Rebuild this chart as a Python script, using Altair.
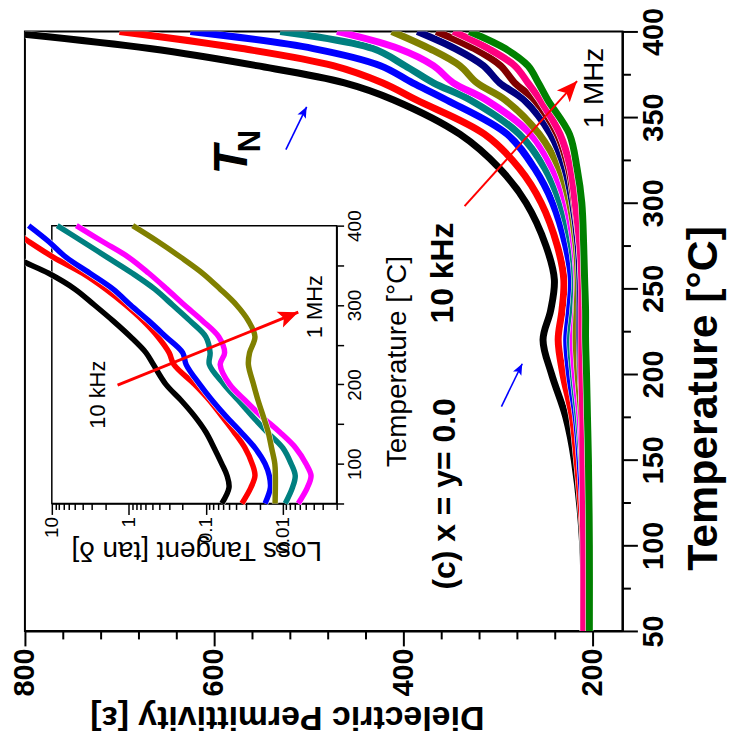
import altair as alt
import pandas as pd

FONT = "Liberation Sans"

# ---------------- main panel data (Temperature [°C] vs permittivity) ----------------
TEMP_MAIN = [50, 100, 150, 175, 200, 220, 237, 255, 275, 300, 320, 340, 360, 370, 380, 390, 400]
FREQ_MAIN = ["10 kHz", "20 kHz", "30 kHz", "50 kHz", "70 kHz", "100 kHz", "200 kHz", "300 kHz", "500 kHz", "1 MHz"]
COLOR_MAIN = ["#000000", "#ff0000", "#0000ff", "#008080", "#ff00ff", "#808000", "#000080", "#800000", "#ff0080", "#008000"]

EPS_F1 = [209, 210, 219, 228, 243, 252, 244, 240, 249, 270, 298, 340, 410, 462, 555, 668, 830]
EPS_F2 = [208, 209, 216, 221, 231, 236, 232, 230, 237, 254, 277, 314, 386, 422, 474, 570, 700]
EPS_F3 = [207, 208, 213, 217, 224, 227, 224, 222, 228, 242, 261, 290, 354, 390, 424, 495, 625]
EPS_F4 = [206, 207, 211, 215, 220, 223, 220, 218, 222, 234, 250, 277, 329, 368, 398, 432, 530]
EPS_F5 = [206, 206, 210, 213, 218, 220, 217, 216, 219, 228, 242, 265, 312, 347, 368, 405, 470]
EPS_F6 = [205, 206, 209, 211, 215, 217, 216, 215, 217, 224, 235, 256, 292, 322, 340, 372, 412]
EPS_F7 = [205, 205, 208, 209, 212, 213, 213, 213, 215, 221, 229, 244, 272, 298, 315, 345, 385]
EPS_F8 = [204, 204, 207, 208, 211, 211, 211, 211, 213, 219, 225, 237, 261, 282, 297, 325, 365]
EPS_F9 = [209, 209, 210, 210, 211, 211, 211, 211, 213, 218, 223, 234, 255, 268, 282, 310, 347]
EPS_F10 = [203, 203, 204, 205, 206, 207, 207, 208, 209, 211, 216, 224, 247, 257, 268, 292, 330]
EPS_ALL = [EPS_F1, EPS_F2, EPS_F3, EPS_F4, EPS_F5, EPS_F6, EPS_F7, EPS_F8, EPS_F9, EPS_F10]

# ---------------- inset data (Temperature vs loss tangent) ----------------
TEMP_INSET = [50, 70, 85, 100, 120, 140, 160, 180, 200, 225, 240, 260, 280, 300, 320, 340, 360, 380, 400]
FREQ_INSET = ["10 kHz", "20 kHz", "50 kHz", "100 kHz", "200 kHz", "1 MHz"]
COLOR_INSET = ["#000000", "#ff0000", "#0000ff", "#008080", "#ff00ff", "#808000"]

TAN_F1 = [0.062, 0.050, 0.053, 0.062, 0.078, 0.10, 0.14, 0.21, 0.33, 0.48, 0.60, 0.95, 1.6, 2.8, 5.0, 11, 30, 60, 120]
TAN_F2 = [0.034, 0.026, 0.023, 0.025, 0.031, 0.043, 0.062, 0.09, 0.14, 0.26, 0.30, 0.42, 0.65, 1.1, 2.0, 4.0, 9.5, 20, 40]
TAN_F3 = [0.017, 0.0145, 0.015, 0.017, 0.023, 0.035, 0.055, 0.083, 0.12, 0.18, 0.20, 0.33, 0.55, 0.95, 1.6, 3.2, 6.5, 11, 20]
TAN_F4 = [0.0093, 0.0075, 0.0069, 0.0078, 0.010, 0.016, 0.025, 0.038, 0.058, 0.09, 0.088, 0.10, 0.16, 0.27, 0.46, 0.9, 1.9, 4.0, 8.5]
TAN_F5 = [0.0063, 0.0048, 0.0043, 0.0050, 0.0068, 0.011, 0.019, 0.031, 0.049, 0.065, 0.057, 0.068, 0.11, 0.19, 0.32, 0.55, 1.0, 2.2, 4.8]
TAN_F6 = [0.0126, 0.0125, 0.0125, 0.0127, 0.014, 0.0155, 0.018, 0.021, 0.024, 0.028, 0.027, 0.023, 0.028, 0.040, 0.065, 0.11, 0.21, 0.42, 0.89]
TAN_ALL = [TAN_F1, TAN_F2, TAN_F3, TAN_F4, TAN_F5, TAN_F6]

# axis ticks
MAIN_X_TICKS = [200, 400, 600, 800]
MAIN_X_MINOR = [240, 280, 320, 360, 440, 480, 520, 560, 640, 680, 720, 760]
MAIN_Y_TICKS = [50, 100, 150, 200, 250, 300, 350, 400]
MAIN_Y_MINOR = [75, 125, 175, 225, 275, 325, 375]
INSET_X_TICKS = [0.01, 0.1, 1, 10]
INSET_X_MINOR = [0.002, 0.003, 0.004, 0.005, 0.006, 0.007, 0.008, 0.009,
                 0.02, 0.03, 0.04, 0.05, 0.06, 0.07, 0.08, 0.09,
                 0.2, 0.3, 0.4, 0.5, 0.6, 0.7, 0.8, 0.9,
                 2, 3, 4, 5, 6, 7, 8, 9]
INSET_Y_TICKS = [50, 100, 150, 200, 250, 300, 350, 400]

# annotations (data coordinates)
MAIN_TEXT_LABELS = ["10 kHz", "(c) x = y= 0.0"]
MAIN_TEXT_EPS = [358, 356]
MAIN_TEXT_T = [259, 130]
MHZ_LABEL = ["1 MHz"]
MHZ_EPS = [197]
MHZ_T = [367]
TN_EPS = [580, 561]
TN_T = [325, 336]
INSET_TEXT_LABELS = ["10 kHz", "1 MHz"]
INSET_TEXT_TAN = [2.48, 0.0038]
INSET_TEXT_T = [187, 298]

RED_ARROW = {"e0": [335], "t0": [298], "e1": [216], "t1": [371]}
BLUE_ARROWS = {"e0": [524, 296], "t0": [331, 181], "e1": [502, 274], "t1": [356, 206]}
INSET_ARROW = {"x0": [1.40], "t0": [199], "x1": [0.0063], "t1": [291]}

ARROW_PATH = "M0,0 L0.42,1 L0,0.78 L-0.42,1 Z"

# ---------------- tables ----------------
main_rows = []
for name, vals in zip(FREQ_MAIN, EPS_ALL):
    for t, v in zip(TEMP_MAIN, vals):
        main_rows.append({"freq": name, "T": t, "eps": v})
main_df = pd.DataFrame(main_rows)

inset_rows = []
for name, vals in zip(FREQ_INSET, TAN_ALL):
    for t, v in zip(TEMP_INSET, vals):
        inset_rows.append({"freq": name, "T": t, "tan": v})
inset_df = pd.DataFrame(inset_rows)

# ---------------- scales ----------------
XS_MAIN = alt.Scale(domain=[168, 800], reverse=True, nice=False, zero=False)
YS_MAIN = alt.Scale(domain=[50, 400], nice=False, zero=False)
XS_IN = alt.Scale(type="log", domain=[0.002, 10], range=[313, 27], nice=False)
YS_IN = alt.Scale(domain=[50, 400], range=[474, 195], nice=False, zero=False)

bold = dict(labelFont=FONT, labelFontWeight="bold", titleFont=FONT, titleFontWeight="bold")

AX_MAIN_X = alt.Axis(
    orient="bottom", values=MAIN_X_TICKS, tickSize=15, tickWidth=2, domainWidth=2, grid=False,
    labelAngle=270, labelAlign="right", labelBaseline="middle", labelPadding=2, labelFontSize=29,
    labelFlush=False, labelOverlap=False,
    title="Dielectric Permittivity [ε]", titleFontSize=34, titleAngle=180,
    titleAlign="center", titleBaseline="middle", titleX=263, titleY=86, **bold)
AX_MAIN_Y = alt.Axis(
    orient="right", values=MAIN_Y_TICKS, tickSize=15, tickWidth=2, domainWidth=2, grid=False,
    labelAngle=270, labelAlign="center", labelBaseline="top", labelPadding=2, labelFontSize=29,
    labelFlush=False, labelOverlap=False,
    title="Temperature [°C]", titleFontSize=43, titleAngle=270,
    titleAlign="center", titleBaseline="middle", titleX=81, titleY=368, **bold)
AX_MAIN_X_MINOR = alt.Axis(orient="bottom", values=MAIN_X_MINOR, tickSize=8, tickWidth=2,
                           labels=False, domain=False, grid=False, title=None)
AX_MAIN_Y_MINOR = alt.Axis(orient="right", values=MAIN_Y_MINOR, tickSize=8, tickWidth=2,
                           labels=False, domain=False, grid=False, title=None)

AX_IN_X = alt.Axis(
    orient="bottom", offset=-128, values=INSET_X_TICKS, format="~g", tickSize=11, tickWidth=1.5,
    domainWidth=1.5, grid=False, labelAngle=270, labelAlign="right", labelBaseline="middle",
    labelPadding=2, labelFont=FONT, labelFontSize=19, labelFlush=False, labelOverlap=False,
    title="Loss Tangent [tan δ]", titleFont=FONT, titleFontWeight="normal", titleFontSize=28,
    titleAngle=180, titleAlign="center", titleBaseline="middle", titleX=172, titleY=46)
AX_IN_X_MINOR = alt.Axis(orient="bottom", offset=-128, values=INSET_X_MINOR, tickSize=6, tickWidth=1.5,
                         labels=False, domain=False, grid=False, title=None)
AX_IN_Y = alt.Axis(
    orient="right", offset=-287, values=INSET_Y_TICKS, tickSize=7, tickWidth=1.5, domainWidth=1.5,
    grid=False, labelExpr="datum.value % 100 === 0 ? datum.label : ''",
    labelAngle=270, labelAlign="center", labelBaseline="top", labelPadding=2, labelFont=FONT,
    labelFontSize=19, labelFlush=False, labelOverlap=False,
    title="Temperature [°C]", titleFont=FONT, titleFontWeight="normal", titleFontSize=28,
    titleAngle=270, titleAlign="center", titleBaseline="middle", titleX=61, titleY=331)


# ---------------- layers ----------------
def main_series(name, color, first=False):
    """Thin white halo + coloured line for one frequency of the main panel."""
    src = alt.Chart(main_df).transform_filter(alt.datum.freq == name)
    ax_x = AX_MAIN_X if first else None
    ax_y = AX_MAIN_Y if first else None
    halo = src.mark_line(strokeWidth=8, clip=True, interpolate="catmull-rom", color="white").encode(
        x=alt.X("eps:Q", scale=XS_MAIN, axis=ax_x),
        y=alt.Y("T:Q", scale=YS_MAIN, axis=ax_y),
        order=alt.Order("T:Q"),
    )
    line = src.mark_line(strokeWidth=7, clip=True, interpolate="catmull-rom", color=color).encode(
        x=alt.X("eps:Q", scale=XS_MAIN, axis=None),
        y=alt.Y("T:Q", scale=YS_MAIN, axis=None),
        order=alt.Order("T:Q"),
    )
    return [halo, line]


def inset_series(name, color):
    src = alt.Chart(inset_df).transform_filter(alt.datum.freq == name)
    halo = src.mark_line(strokeWidth=6.5, clip=True, interpolate="catmull-rom", color="white").encode(
        x=alt.X("tan:Q", scale=XS_IN, axis=None),
        y=alt.Y("T:Q", scale=YS_IN, axis=None),
        order=alt.Order("T:Q"),
    )
    line = src.mark_line(strokeWidth=5.5, clip=True, interpolate="catmull-rom", color=color).encode(
        x=alt.X("tan:Q", scale=XS_IN, axis=None),
        y=alt.Y("T:Q", scale=YS_IN, axis=None),
        order=alt.Order("T:Q"),
    )
    return [halo, line]


main_layers = []
for i, (name, col) in enumerate(zip(FREQ_MAIN, COLOR_MAIN)):
    main_layers += main_series(name, col, first=(i == 0))

main_minor = alt.Chart(main_df).mark_point(opacity=0).encode(
    x=alt.X("eps:Q", scale=XS_MAIN, axis=AX_MAIN_X_MINOR),
    y=alt.Y("T:Q", scale=YS_MAIN, axis=AX_MAIN_Y_MINOR),
)

inset_box = alt.Chart(pd.DataFrame({"k": [0]})).mark_rect(fill="white", stroke="black", strokeWidth=1.5).encode(
    x=alt.XDatum(10, type="quantitative", scale=XS_IN, axis=AX_IN_X),
    x2=alt.X2Datum(0.002),
    y=alt.YDatum(50, type="quantitative", scale=YS_IN, axis=AX_IN_Y),
    y2=alt.Y2Datum(400),
)

inset_minor = alt.Chart(inset_df).mark_point(opacity=0).encode(
    x=alt.X("tan:Q", scale=XS_IN, axis=AX_IN_X_MINOR),
    y=alt.Y("T:Q", scale=YS_IN, axis=None),
)

inset_layers = []
for name, col in zip(FREQ_INSET, COLOR_INSET):
    inset_layers += inset_series(name, col)


def main_text(df, **mark):
    return alt.Chart(df).mark_text(angle=270, font=FONT, color="black", **mark).encode(
        x=alt.X("eps:Q", scale=XS_MAIN, axis=None),
        y=alt.Y("T:Q", scale=YS_MAIN, axis=None),
        text="label:N",
    )


txt_bold = main_text(pd.DataFrame({"label": MAIN_TEXT_LABELS, "eps": MAIN_TEXT_EPS, "T": MAIN_TEXT_T}),
                     fontSize=32, fontWeight="bold")
txt_mhz = main_text(pd.DataFrame({"label": MHZ_LABEL, "eps": MHZ_EPS, "T": MHZ_T}), fontSize=28)
txt_T = main_text(pd.DataFrame({"label": ["T"], "eps": TN_EPS[:1], "T": TN_T[:1]}),
                  fontSize=48, fontWeight="bold", fontStyle="italic")
txt_N = main_text(pd.DataFrame({"label": ["N"], "eps": TN_EPS[1:], "T": TN_T[1:]}),
                  fontSize=31, fontWeight="bold")

txt_inset = alt.Chart(pd.DataFrame({"label": INSET_TEXT_LABELS, "tan": INSET_TEXT_TAN, "T": INSET_TEXT_T})).mark_text(
    angle=270, font=FONT, fontSize=22, color="black").encode(
    x=alt.X("tan:Q", scale=XS_IN, axis=None),
    y=alt.Y("T:Q", scale=YS_IN, axis=None),
    text="label:N",
)

red_df = pd.DataFrame(RED_ARROW)
red_line = alt.Chart(red_df).mark_rule(color="#ff0000", strokeWidth=2).encode(
    x=alt.X("e0:Q", scale=XS_MAIN, axis=None), x2="e1:Q",
    y=alt.Y("t0:Q", scale=YS_MAIN, axis=None), y2="t1:Q")
red_head = alt.Chart(red_df).mark_point(shape=ARROW_PATH, filled=True, color="#ff0000", opacity=1,
                                        size=1700, angle=42, strokeWidth=0).encode(
    x=alt.X("e1:Q", scale=XS_MAIN, axis=None), y=alt.Y("t1:Q", scale=YS_MAIN, axis=None))

blue_df = pd.DataFrame(BLUE_ARROWS)
blue_line = alt.Chart(blue_df).mark_rule(color="#0000ff", strokeWidth=1.6).encode(
    x=alt.X("e0:Q", scale=XS_MAIN, axis=None), x2="e1:Q",
    y=alt.Y("t0:Q", scale=YS_MAIN, axis=None), y2="t1:Q")
blue_head = alt.Chart(blue_df).mark_point(shape=ARROW_PATH, filled=True, color="#0000ff", opacity=1,
                                          size=500, angle=27, strokeWidth=0).encode(
    x=alt.X("e1:Q", scale=XS_MAIN, axis=None), y=alt.Y("t1:Q", scale=YS_MAIN, axis=None))

in_df = pd.DataFrame(INSET_ARROW)
in_line = alt.Chart(in_df).mark_rule(color="#ff0000", strokeWidth=3).encode(
    x=alt.X("x0:Q", scale=XS_IN, axis=None), x2="x1:Q",
    y=alt.Y("t0:Q", scale=YS_IN, axis=None), y2="t1:Q")
in_head = alt.Chart(in_df).mark_point(shape=ARROW_PATH, filled=True, color="#ff0000", opacity=1,
                                      size=1600, angle=68, strokeWidth=0).encode(
    x=alt.X("x1:Q", scale=XS_IN, axis=None), y=alt.Y("t1:Q", scale=YS_IN, axis=None))

chart = alt.layer(
    *main_layers, main_minor, inset_box, inset_minor, *inset_layers,
    txt_bold, txt_mhz, txt_T, txt_N, txt_inset,
    red_line, red_head, blue_line, blue_head, in_line, in_head,
).resolve_scale(
    x="independent", y="independent"
).resolve_axis(
    x="independent", y="independent"
).properties(
    width=600, height=602,
    autosize=alt.AutoSizeParams(type="none"),
    padding={"left": 17, "top": 22, "right": 110, "bottom": 115},
    background="white",
).configure_view(
    stroke="black", strokeWidth=2
).configure_axis(
    domainColor="black", tickColor="black", labelColor="black", titleColor="black"
)

chart.save("out.html", embed_options={"renderer": "svg", "actions": False})
